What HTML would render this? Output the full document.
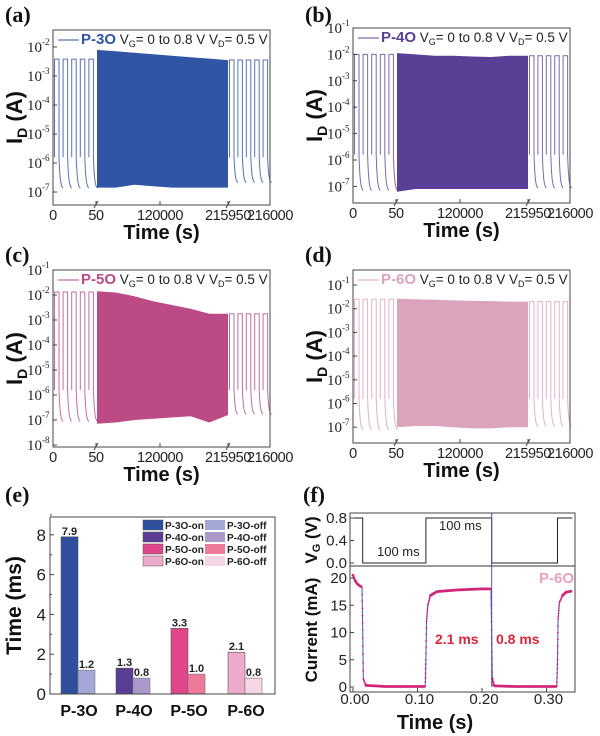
<!DOCTYPE html>
<html><head><meta charset="utf-8"><style>
html,body{margin:0;padding:0;background:#fff}
svg{display:block}
text{font-family:"Liberation Sans",sans-serif}
.serif{font-family:"Liberation Serif",serif}
</style></head><body>
<svg id="fig" width="600" height="736" viewBox="0 0 600 736" xmlns="http://www.w3.org/2000/svg"></svg>
<script>
// ---- Panels a-d data (log10 of current, A) ----
const panelNames = ['P-3O','P-4O','P-5O','P-6O'];
const onLeft  = [-2.42, -2.0, -1.88, -1.6];
const onRight = [-2.45, -2.05, -2.75, -1.7];
const offLeft = [-6.9, -7.2, -7.1, -7.15];
const offRight= [-6.7, -7.1, -6.8, -7.0];
const midTopA = [-2.1,-2.15,-2.2,-2.25,-2.3,-2.35,-2.4,-2.45];
const midBotA = [-6.85,-6.85,-6.75,-6.8,-6.85,-6.85,-6.85,-6.85];
const midTopB = [-1.95,-2.0,-2.05,-2.05,-2.08,-2.1,-2.05,-2.05];
const midBotB = [-7.2,-7.1,-7.1,-7.1,-7.1,-7.1,-7.1,-7.1];
const midTopC = [-1.85,-1.9,-2.05,-2.25,-2.4,-2.55,-2.75,-2.75];
const midBotC = [-7.15,-7.1,-7.0,-6.95,-6.9,-6.85,-7.1,-6.8];
const midTopD = [-1.58,-1.6,-1.62,-1.65,-1.67,-1.68,-1.7,-1.7];
const midBotD = [-7.0,-6.95,-6.95,-7.0,-7.05,-7.05,-7.0,-7.0];
const midTops = [midTopA, midTopB, midTopC, midTopD];
const midBots = [midBotA, midBotB, midBotC, midBotD];
const xTickLabels = ['0','50','120000','215950','216000'];
// ---- Panel e data ----
const groups = ['P-3O','P-4O','P-5O','P-6O'];
const onTimes = [7.9, 1.3, 3.3, 2.1];
const offTimes = [1.2, 0.8, 1.0, 0.8];
const eTicks = [0,2,4,6,8];
// ---- Panel f data ----
const vgTimes = [-0.005,0.015,0.015,0.113,0.113,0.215,0.215,0.317,0.317,0.34];
const vgVals  = [0.8,0.8,0,0,0.8,0.8,0,0,0.8,0.8];
const curT = [0,0.003,0.006,0.01,0.014,0.015,0.016,0.02,0.05,0.09,0.112,0.113,0.114,0.116,0.12,0.13,0.16,0.2,0.214,0.215,0.216,0.218,0.22,0.25,0.3,0.316,0.317,0.318,0.32,0.325,0.33,0.34];
const curI = [20.5,19.6,19.0,18.6,18.3,10.5,1.5,0.3,0.1,0.1,0.1,5,12,15,16.8,17.5,17.8,18.0,18.0,9,1.5,0.4,0.2,0.1,0.1,0.1,5,12.5,15.5,16.8,17.4,17.6];
const fXTicks = [0,0.1,0.2,0.3];
const fXLabels = ['0.00','0.10','0.20','0.30'];
const vgTicks = [0,0.4,0.8];
const vgLabels = ['0.0','0.4','0.8'];
const curTicks = [0,5,10,15,20];

const NS='http://www.w3.org/2000/svg';
const svg=document.getElementById('fig');
function el(tag,attrs,parent,txt){const e=document.createElementNS(NS,tag);for(const k in attrs)e.setAttribute(k,attrs[k]);if(txt!==undefined)e.textContent=txt;(parent||svg).appendChild(e);return e;}

const colors=['#2f55a4','#5a3f96','#bc4a85','#dca3bd'];
const lineColors=['#5a72b4','#7a6aae','#c0709c','#e2b3c8'];
const boxes=[
 {x0:53,x1:270,y0:30,y1:205,ref:-2,refY:47,ppd:29,ticks:[-2,-3,-4,-5,-6,-7],lab:'(a)',ox:0,oy:0},
 {x0:353,x1:570,y0:28,y1:203,ref:-1,refY:28,ppd:26.4,ticks:[-1,-2,-3,-4,-5,-6,-7],lab:'(b)',ox:300,oy:0},
 {x0:53,x1:270,y0:270,y1:447,ref:-1,refY:270,ppd:25,ticks:[-1,-2,-3,-4,-5,-6,-7,-8],lab:'(c)',ox:0,oy:240},
 {x0:353,x1:570,y0:270,y1:443,ref:-1,refY:285,ppd:23.7,ticks:[-1,-2,-3,-4,-5,-6,-7],lab:'(d)',ox:300,oy:240}
];
boxes.forEach((b,p)=>{
  const g=el('g',{},svg);
  
  
  const yS=v=>b.refY+(b.ref-v)*b.ppd;
  const xb1=b.x0+43, xb2=b.x1-42;
  function wave(xs,xe,on,off){
    let d='';const per=(xe-xs)/5;
    for(let i=0;i<5;i++){
      const a=xs+i*per+1.5;
      d+=`M${a},${yS(-5.8)}L${a},${yS(on)}L${a+4.5},${yS(on)}L${a+4.5},${yS(-5.8)}`;
      for(let k=1;k<=10;k++){const t=k/10;const xx=a+4.5+t*(per-4.5);d+=`L${xx.toFixed(2)},${yS(off+(-5.8-off)*Math.exp(-t*3.5)).toFixed(2)}`;}
    }
    return d;
  }
  const wl=el('path',{d:wave(b.x0,xb1,onLeft[p],offLeft[p]),fill:'none',stroke:lineColors[p],'stroke-width':1},g);
  
  
  const wr=el('path',{d:wave(xb2,b.x1,onRight[p],offRight[p]),fill:'none',stroke:lineColors[p],'stroke-width':1},g);
  
  
  const tp=midTops[p],bt=midBots[p],n=tp.length;
  let d='';
  for(let i=0;i<n;i++){const x=xb1+1+i*(xb2-xb1-1)/(n-1);d+=(i?'L':'M')+x.toFixed(1)+','+yS(tp[i]).toFixed(1);}
  for(let i=n-1;i>=0;i--){const x=xb1+1+i*(xb2-xb1-1)/(n-1);d+='L'+x.toFixed(1)+','+yS(bt[i]).toFixed(1);}
  const m=el('path',{d:d+'Z',fill:colors[p]},g);
  
  
  el('rect',{x:b.x0,y:b.y0,width:b.x1-b.x0,height:b.y1-b.y0,fill:'none',stroke:'#444','stroke-width':1},g);
  b.ticks.forEach(t=>{
    const y=yS(t);
    el('line',{x1:b.x0,x2:b.x0+4,y1:y,y2:y,stroke:'#444'},g);
    const tx=el('text',{x:b.x0-26,y:y+5,'font-size':15,class:'serif',fill:'#222'},g);
    
    
    el('tspan',{},tx,'10');el('tspan',{dy:-7,'font-size':9},tx,String(t));
  });
  const xp=[b.x0,xb1,(xb1+xb2)/2-2,xb2,b.x1];
  xTickLabels.forEach((l,i)=>{
    el('line',{x1:xp[i],x2:xp[i],y1:b.y1,y2:b.y1-4,stroke:'#444'},g);
    const t=el('text',{x:xp[i],y:b.y1+15,'font-size':14.5,'letter-spacing':-0.4,'text-anchor':'middle',fill:'#222'},g,l);
    
    
  });
  [xb1,xb2].forEach(x=>el('line',{x1:x-2,y1:b.y1+3,x2:x+2,y2:b.y1-4,stroke:'#444'},g));
  const xt=el('text',{x:(b.x0+b.x1)/2,y:b.y1+34,'font-size':20,'font-weight':'bold','text-anchor':'middle',fill:'#111'},g,'Time (s)');
  
  
  const cy=(b.y0+b.y1)/2;
  const yt=el('text',{x:0,y:0,'font-size':22,'font-weight':'bold','text-anchor':'middle',fill:'#111',transform:`translate(${b.ox+22},${cy}) rotate(-90)`},g);
  
  
  el('tspan',{},yt,'I');el('tspan',{dy:5,'font-size':14},yt,'D');el('tspan',{dy:-5},yt,' (A)');
  const pl=el('text',{x:b.ox+5,y:b.oy+22,'font-size':22,'font-weight':'bold',class:'serif',fill:'#111'},g,b.lab);
  
  
  const ly=b.y0+14;
  el('line',{x1:b.x0+5,x2:b.x0+26,y1:ly-4,y2:ly-4,stroke:lineColors[p],'stroke-width':1.2},g);
  const lt=el('text',{x:b.x0+28,y:ly,'font-size':13.5,fill:'#222'},g);
  
  
  el('tspan',{'font-weight':'bold',fill:colors[p],'font-size':15},lt,panelNames[p]);
  el('tspan',{},lt,' V');el('tspan',{dy:3,'font-size':9},lt,'G');el('tspan',{dy:-3},lt,'= 0 to 0.8 V  V');
  el('tspan',{dy:3,'font-size':9},lt,'D');el('tspan',{dy:-3},lt,'= 0.5 V');
});

// ---- Panel e ----
(function(){
  const g=el('g',{},svg);
  
  
  const X0=50,X1=275,Y0=517,Y1=694;
  const yS=v=>Y1-v*19.9;
  const gc=[78,133,188,245],bw=17;
  const onC=['#2e4f9e','#5a3d94','#e0468a','#eeaacb'];
  const offC=['#a3a8d6','#a99acb','#ec7a98','#f6d6e4'];
  groups.forEach((gname,i)=>{
    const r1=el('rect',{x:gc[i]-bw,y:yS(onTimes[i]),width:bw,height:Y1-yS(onTimes[i]),fill:onC[i],stroke:'#555','stroke-width':0.6},g);
    
    
    const r2=el('rect',{x:gc[i],y:yS(offTimes[i]),width:bw,height:Y1-yS(offTimes[i]),fill:offC[i],stroke:'#777','stroke-width':0.6},g);
    
    
    const v1=el('text',{x:gc[i]-bw/2,y:yS(onTimes[i])-2,'font-size':11,'font-weight':'bold','text-anchor':'middle',fill:'#222'},g,onTimes[i].toFixed(1));
    
    
    const v2=el('text',{x:gc[i]+bw/2,y:yS(offTimes[i])-2,'font-size':11,'font-weight':'bold','text-anchor':'middle',fill:'#222'},g,offTimes[i].toFixed(1));
    
    
    const xl=el('text',{x:gc[i]+1,y:716,'font-size':16,'font-weight':'bold','text-anchor':'middle',fill:'#111'},g,gname);
    
    
  });
  el('rect',{x:X0,y:Y0,width:X1-X0,height:Y1-Y0,fill:'none',stroke:'#444'},g);
  eTicks.forEach(t=>{
    el('line',{x1:X0,x2:X0+4,y1:yS(t),y2:yS(t),stroke:'#444'},g);
    el('line',{x1:X0,x2:X0+2,y1:yS(t+1),y2:yS(t+1),stroke:'#444'},g);
    const tl=el('text',{x:X0-4,y:yS(t)+6,'font-size':17,'text-anchor':'end',fill:'#222'},g,String(t));
    
    
  });
  const yt=el('text',{x:0,y:0,'font-size':21,'font-weight':'bold','text-anchor':'middle',fill:'#111',transform:`translate(21,${(Y0+Y1)/2}) rotate(-90)`},g,'Time (ms)');
  
  
  const pl=el('text',{x:5,y:502,'font-size':22,'font-weight':'bold',class:'serif',fill:'#111'},g,'(e)');
  
  
  const lg=el('g',{},g);
  
  
  groups.forEach((gname,i)=>{
    const y=520+i*12;
    el('rect',{x:143,y:y,width:20,height:10,fill:onC[i],stroke:'#555','stroke-width':0.5},lg);
    el('text',{x:165,y:y+9,'font-size':10,'font-weight':'bold',fill:'#222'},lg,gname+'-on');
    el('rect',{x:205,y:y,width:20,height:10,fill:offC[i]},lg);
    el('text',{x:227,y:y+9,'font-size':10,'font-weight':'bold',fill:'#222'},lg,gname+'-off');
  });
})();

// ---- Panel f ----
(function(){
  const g=el('g',{},svg);
  
  
  const X0=350,X1=575,T0=513,M=566,B1=692;
  const xS=t=>353+t*645;
  const vS=v=>563-v*56.25;
  const cS=v=>687-v*5.45;
  let d='';vgTimes.forEach((t,i)=>d+=(i?'L':'M')+xS(t).toFixed(1)+','+vS(vgVals[i]).toFixed(1));
  const vp=el('path',{d,fill:'none',stroke:'#222','stroke-width':1},g);
  
  
  let d2='';curT.forEach((t,i)=>d2+=(i?'L':'M')+xS(t).toFixed(1)+','+cS(curI[i]).toFixed(1));
  const cl=el('path',{d:d2,fill:'none',stroke:'#5a52a8','stroke-width':1},g);
  
  
  const dots=el('g',{fill:'#d0267a'},g);
  
  
  for(let i=0;i<curT.length-1;i++){
    const n=Math.max(2,Math.round((xS(curT[i+1])-xS(curT[i]))/1.2));
    const vert=Math.abs(cS(curI[i+1])-cS(curI[i]))>6;
    const steps=vert?Math.max(n,6):n;
    for(let k=0;k<steps;k++){const f=k/steps;
      el('circle',{cx:(xS(curT[i])+f*(xS(curT[i+1])-xS(curT[i]))).toFixed(1),cy:(cS(curI[i])+f*(cS(curI[i+1])-cS(curI[i]))).toFixed(1),r:vert?0.9:1.4},dots);}
  }
  el('line',{x1:xS(0.215),x2:xS(0.215),y1:T0,y2:cS(0),stroke:'#5a52a8','stroke-width':1},g);
  el('rect',{x:X0,y:T0,width:X1-X0,height:B1-T0,fill:'none',stroke:'#444'},g);
  el('line',{x1:X0,x2:X1,y1:M,y2:M,stroke:'#333'},g);
  vgTicks.forEach((t,i)=>{el('line',{x1:X0,x2:X0+4,y1:vS(t),y2:vS(t),stroke:'#444'},g);
    const tl=el('text',{x:X0-3,y:vS(t)+5,'font-size':15,'text-anchor':'end',fill:'#222'},g,vgLabels[i]);
    
    });
  curTicks.forEach(t=>{el('line',{x1:X0,x2:X0+4,y1:cS(t),y2:cS(t),stroke:'#444'},g);
    const tl=el('text',{x:X0-3,y:cS(t)+5,'font-size':15,'text-anchor':'end',fill:'#222'},g,String(t));
    
    });
  fXTicks.forEach((t,i)=>{el('line',{x1:xS(t),x2:xS(t),y1:B1,y2:B1-4,stroke:'#444'},g);
    const tl=el('text',{x:xS(t)+2,y:B1+12,'font-size':15,'text-anchor':'middle',fill:'#222'},g,fXLabels[i]);
    
    });
  const xt=el('text',{x:435,y:729,'font-size':20,'font-weight':'bold','text-anchor':'middle',fill:'#111'},g,'Time (s)');
  
  const vt=el('text',{x:0,y:0,'font-size':17,'font-weight':'bold','text-anchor':'middle',fill:'#111',transform:'translate(317,540) rotate(-90)'},g);
  
  el('tspan',{},vt,'V');el('tspan',{dy:3,'font-size':11},vt,'G');el('tspan',{dy:-3},vt,' (V)');
  const ct=el('text',{x:0,y:0,'font-size':17,'font-weight':'bold','text-anchor':'middle',fill:'#111',transform:'translate(317,630) rotate(-90)'},g,'Current (mA)');
  
  const t1=el('text',{x:377,y:556,'font-size':13,fill:'#222'},g,'100 ms');
  const t2=el('text',{x:439,y:530,'font-size':13,fill:'#222'},g,'100 ms');
  const r1=el('text',{x:435,y:644,'font-size':14,'font-weight':'bold',fill:'#d8283a'},g,'2.1 ms');
  const r2=el('text',{x:496,y:644,'font-size':14,'font-weight':'bold',fill:'#d8283a'},g,'0.8 ms');
  const pn=el('text',{x:539,y:583,'font-size':15,'font-weight':'bold',fill:'#e8a0c0'},g,'P-6O');
  const pl=el('text',{x:303,y:502,'font-size':22,'font-weight':'bold',class:'serif',fill:'#111'},g,'(f)');
  
})();
</script>
</body></html>
